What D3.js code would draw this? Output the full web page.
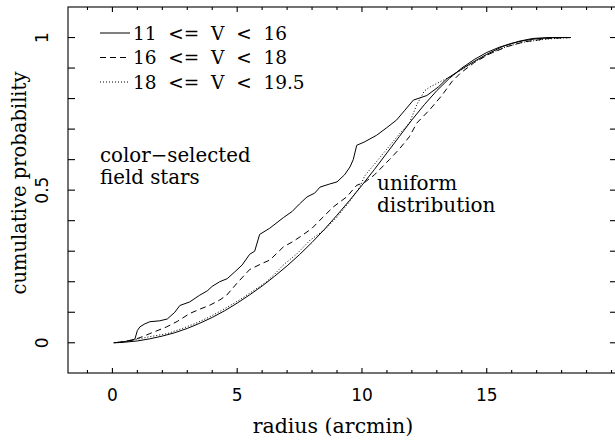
<!DOCTYPE html>
<html><head><meta charset="utf-8">
<script src="https://cdn.jsdelivr.net/npm/d3@7"></script>
<style>
html,body{margin:0;padding:0;background:#fff;}
svg{display:block;}
text{fill:#000;}
</style></head>
<body>
<svg id="chart" width="615" height="441"></svg>
<script>
// ---- data ----
const uniformR = [0.05,0.5,1,1.5,2,2.5,3,3.5,4,4.5,5,5.5,6,6.5,7,7.5,8,8.5,9,9.5,10,10.5,11,11.5,12,12.5,13,13.5,14,14.5,15,15.5,16,16.5,17,17.5,18,18.36];
const uniformP = [0,0.002,0.006,0.013,0.022,0.033,0.047,0.064,0.083,0.105,0.13,0.157,0.186,0.218,0.252,0.289,0.329,0.372,0.418,0.466,0.516,0.568,0.622,0.676,0.73,0.78,0.826,0.866,0.9,0.928,0.951,0.968,0.981,0.99,0.996,0.999,1.0,1.0];

const brightR = [0.05,0.5,0.9,1.0,1.1,1.3,1.5,1.9,2.2,2.5,2.7,3.1,3.5,3.8,4.0,4.3,4.6,4.9,5.2,5.5,5.7,5.9,6.3,6.85,7.2,7.5,7.8,8.1,8.32,8.7,9.0,9.3,9.52,9.65,9.79,10.1,10.59,11.0,11.39,11.7,12.06,12.6,13.06,13.4,13.93,14.46,15.0,15.65,16.3,16.85,17.5,18.36];
const brightP = [0,0.004,0.012,0.04,0.052,0.062,0.069,0.072,0.078,0.1,0.122,0.134,0.156,0.17,0.185,0.2,0.21,0.232,0.255,0.29,0.3,0.355,0.375,0.41,0.43,0.455,0.478,0.49,0.51,0.52,0.527,0.55,0.576,0.6,0.647,0.658,0.68,0.705,0.73,0.76,0.795,0.81,0.838,0.865,0.893,0.92,0.945,0.971,0.988,0.997,1.0,1.0];

const midR = [0.2,0.8,1.2,1.5,2.17,2.6,3.1,3.5,3.9,4.3,4.58,4.98,5.5,6.0,6.31,6.85,7.2,7.52,8.0,8.32,8.85,9.39,9.79,10.1,10.5,11.1,11.5,11.9,12.2,12.73,13.2,13.6,13.93,14.5,15.13,15.8,16.5,17.5,18.36];
const midP = [0,0.008,0.02,0.03,0.052,0.07,0.096,0.11,0.123,0.14,0.156,0.194,0.24,0.26,0.271,0.314,0.33,0.347,0.375,0.402,0.445,0.478,0.516,0.525,0.55,0.6,0.635,0.675,0.72,0.765,0.81,0.855,0.882,0.918,0.947,0.97,0.986,0.997,1.0];

const faintR = [0.1,0.6,1.0,1.5,2.2,2.84,3.4,3.9,4.4,4.84,5.2,5.64,6.18,6.5,6.85,7.4,7.92,8.5,8.98,9.5,9.92,10.1,10.19,10.5,10.85,11.52,11.9,12.2,12.5,12.73,13.13,13.5,14.0,14.5,15.1,15.8,16.5,17.4,18.36];
const faintP = [0,0.005,0.012,0.02,0.03,0.048,0.066,0.085,0.107,0.128,0.146,0.17,0.2,0.225,0.255,0.292,0.336,0.37,0.41,0.462,0.511,0.545,0.555,0.585,0.62,0.686,0.72,0.78,0.825,0.838,0.855,0.87,0.895,0.92,0.947,0.97,0.985,0.995,1.0];

const seriesLabels = ["11  <=  V  <  16", "16  <=  V  <  18", "18  <=  V  <  19.5"];
const xTicksMajor = [0,5,10,15];
const yTicksMajor = [0,0.5,1];
const yTickLabels = ["0","0.5","1"];
const xTitle = "radius (arcmin)";
const yTitle = "cumulative probability";
const noteLeft = ["color\u2212selected","field stars"];
const noteRight = ["uniform","distribution"];

// ---- layout ----
const L=68, R=617, T=7, B=373;
const x = d3.scaleLinear().domain([-1.78,20.22]).range([L,R]);
const y = d3.scaleLinear().domain([-0.099,1.1]).range([B,T]);
const svg = d3.select("#chart");
const serif = "DejaVu Serif, serif";
const sans = "DejaVu Sans, sans-serif";

// frame
svg.append("rect").attr("x",L).attr("y",T).attr("width",R-L).attr("height",B-T)
  .attr("fill","none").attr("stroke","#000").attr("stroke-width",1.1);

// ticks
const xMinor = d3.range(-1,21,1).filter(v=>!xTicksMajor.includes(v));
const yMinor = d3.range(0,11,1).map(v=>v/10).filter(v=>!yTicksMajor.includes(v));
const tg = svg.append("g").attr("stroke","#000").attr("stroke-width",1.1);
function xt(vals,len){
  vals.forEach(v=>{
    tg.append("line").attr("x1",x(v)).attr("x2",x(v)).attr("y1",B).attr("y2",B-len);
    tg.append("line").attr("x1",x(v)).attr("x2",x(v)).attr("y1",T).attr("y2",T+len);
  });
}
function yt(vals,len){
  vals.forEach(v=>{
    tg.append("line").attr("y1",y(v)).attr("y2",y(v)).attr("x1",L).attr("x2",L+len);
    tg.append("line").attr("y1",y(v)).attr("y2",y(v)).attr("x1",R).attr("x2",R-len);
  });
}
xt(xTicksMajor,5); xt(xMinor,3);
yt(yTicksMajor,7); yt(yMinor,7);

// tick labels
svg.append("g").selectAll("text").data(xTicksMajor).join("text")
  .attr("x",d=>x(d)).attr("y",401).attr("text-anchor","middle")
  .attr("font-family",sans).attr("font-size",17).text(d=>d);
svg.append("g").selectAll("text").data(yTicksMajor).join("text")
  .attr("transform",(d,i)=>`translate(48,${y(d)}) rotate(-90)`)
  .attr("text-anchor","middle")
  .attr("font-family",sans).attr("font-size",17).text((d,i)=>yTickLabels[i]);

// titles
svg.append("text").attr("x",333).attr("y",433).attr("text-anchor","middle")
  .attr("font-family",serif).attr("font-size",20.5).text(xTitle);
svg.append("text").attr("transform",`translate(26,183) rotate(-90)`)
  .attr("text-anchor","middle").attr("font-family",serif).attr("font-size",19.5).text(yTitle);

// curves
const line = d3.line().x(d=>x(d[0])).y(d=>y(d[1]));
const zip = (a,b)=>a.map((v,i)=>[v,b[i]]);
const curves = [
  {d:zip(uniformR,uniformP), dash:null},
  {d:zip(brightR,brightP), dash:null},
  {d:zip(midR,midP), dash:"6,4"},
  {d:zip(faintR,faintP), dash:"1,2"}
];
svg.append("g").selectAll("path").data(curves).join("path")
  .attr("d",c=>line(c.d)).attr("fill","none").attr("stroke","#000")
  .attr("stroke-width",1).attr("stroke-dasharray",c=>c.dash);

// legend
const dashes=[null,"6,4","1,2"];
const lg = svg.append("g");
seriesLabels.forEach((s,i)=>{
  const cy = 33 + i*24.5;
  lg.append("line").attr("x1",100).attr("x2",130).attr("y1",cy).attr("y2",cy)
    .attr("stroke","#000").attr("stroke-width",1).attr("stroke-dasharray",dashes[i]);
  lg.append("text").attr("x",133).attr("y",cy+6.5).attr("font-family",serif)
    .attr("font-size",18.5).style("white-space","pre").text(s);
});

// annotations
noteLeft.forEach((s,i)=>svg.append("text").attr("x",100).attr("y",162+i*22)
  .attr("font-family",serif).attr("font-size",19.8).text(s));
noteRight.forEach((s,i)=>svg.append("text").attr("x",377).attr("y",190+i*22)
  .attr("font-family",serif).attr("font-size",20).text(s));
</script>
</body></html>
